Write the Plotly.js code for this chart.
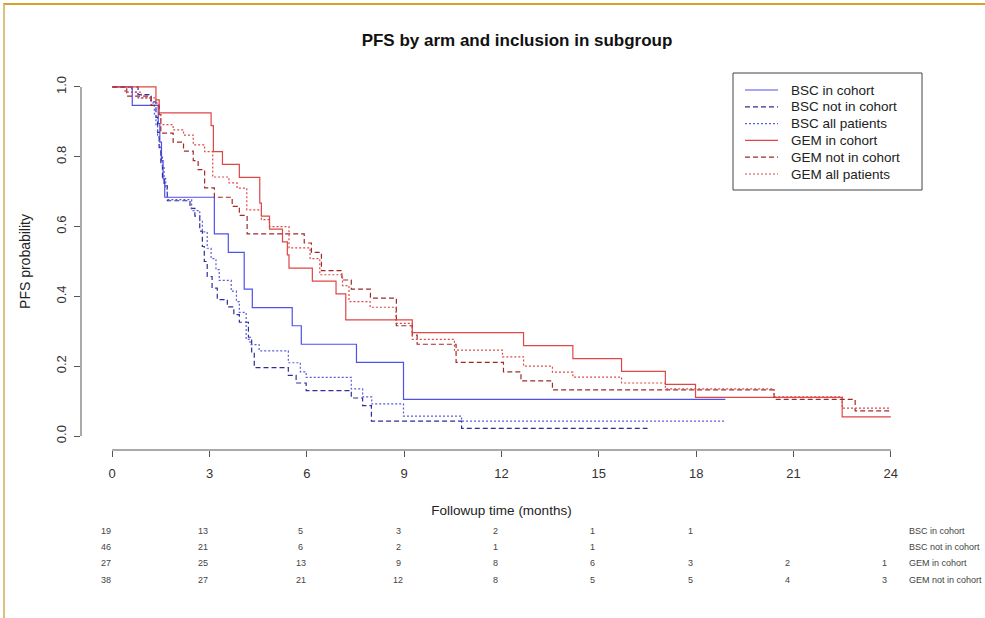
<!DOCTYPE html>
<html>
<head>
<meta charset="utf-8">
<script src="https://cdn.plot.ly/plotly-3.0.1.min.js"></script>
<style>
  html, body { margin: 0; padding: 0; background: #fff; }
  #wrap { position: relative; width: 985px; height: 618px; overflow: hidden; }
  #chart { position: absolute; left: 0; top: 0; width: 985px; height: 618px; }
  #frame { position: absolute; left: 3px; top: 3px; width: 990px; height: 630px;
           border-top: 2px solid #d9a12a; border-left: 2px solid #dcc17e; pointer-events: none; }
</style>
</head>
<body>
<div id="wrap"><div id="chart"></div><div id="frame"></div></div>
<script>
// ---- Kaplan-Meier step data (start time of each step, survival value) ----
const bscInT  = [0,0.62,1.42,1.47,1.52,1.57,1.62,3.15,3.58,4.07,4.32,5.55,5.83,7.53,8.98,18.9];
const bscInS  = [1,0.947,0.895,0.842,0.789,0.737,0.684,0.579,0.526,0.421,0.368,0.316,0.263,0.211,0.105,0.105];

const bscNotT = [0,0.8,1.2,1.35,1.4,1.45,1.5,1.55,1.6,1.7,2.4,2.55,2.7,2.78,2.84,2.93,3.08,3.24,3.55,3.75,3.92,4.2,4.3,4.38,5.43,5.67,5.98,7.37,7.72,7.99,10.77,16.5];
const bscNotS = [1,0.978,0.957,0.913,0.870,0.826,0.783,0.739,0.717,0.674,0.652,0.630,0.587,0.543,0.500,0.457,0.424,0.391,0.370,0.348,0.326,0.283,0.239,0.196,0.174,0.152,0.130,0.109,0.087,0.043,0.022,0.022];

const bscAllT = [0,0.6,0.8,1.2,1.3,1.35,1.4,1.45,1.5,1.55,1.6,1.65,1.7,2.45,2.7,2.78,2.93,3.05,3.2,3.3,3.67,3.83,3.92,4.13,4.25,4.53,5.43,5.8,5.98,7.37,7.72,8.0,8.98,10.77,18.9];
const bscAllS = [1,0.985,0.969,0.954,0.923,0.892,0.862,0.831,0.8,0.769,0.738,0.708,0.677,0.646,0.615,0.585,0.538,0.508,0.477,0.446,0.415,0.385,0.354,0.277,0.262,0.244,0.210,0.184,0.168,0.135,0.112,0.092,0.057,0.043,0.043];

const gemInT  = [0,1.35,1.45,3.05,3.12,3.4,3.92,4.55,4.6,4.85,5.25,5.4,5.45,6.17,6.9,7.2,9.25,12.68,14.2,15.7,17.05,17.98,22.5,24];
const gemInS  = [1,0.963,0.926,0.889,0.815,0.778,0.741,0.667,0.630,0.593,0.556,0.519,0.481,0.444,0.407,0.333,0.296,0.259,0.222,0.185,0.148,0.111,0.055,0.055];

const gemNotT = [0,0.45,1.2,1.45,1.5,1.88,2.2,2.5,2.65,2.85,3.15,3.7,3.92,4.16,5.92,6.14,6.45,7.08,7.37,7.96,8.76,9.25,9.4,10.6,12.06,12.6,13.57,20.4,22.9,24];
const gemNotS = [1,0.974,0.947,0.921,0.868,0.842,0.816,0.789,0.763,0.711,0.684,0.658,0.632,0.579,0.553,0.526,0.474,0.447,0.421,0.395,0.316,0.289,0.263,0.211,0.184,0.158,0.132,0.105,0.072,0.072];

const gemAllT = [0,0.4,0.9,1.35,1.45,1.5,1.88,2.2,2.5,2.85,3.1,3.6,3.85,4.15,4.6,4.85,5.45,6.1,6.4,7.1,7.3,7.95,8.75,9.25,10.55,12.03,12.68,13.57,14.2,15.7,17.05,20.4,22.5,24];
const gemAllS = [1,0.985,0.969,0.954,0.923,0.892,0.877,0.862,0.834,0.815,0.742,0.725,0.71,0.648,0.62,0.6,0.539,0.508,0.462,0.431,0.385,0.369,0.323,0.277,0.246,0.227,0.2,0.183,0.169,0.152,0.135,0.112,0.08,0.08];

const seriesNames = ["BSC in cohort","BSC not in cohort","BSC all patients","GEM in cohort","GEM not in cohort","GEM all patients"];

// ---- number at risk table ----
const riskTimes  = [0,3,6,9,12,15,18,21,24];
const riskLabels = ["BSC in cohort","BSC not in cohort","GEM in cohort","GEM not in cohort"];
const riskBscIn  = [19,13,5,3,2,1,1,null,null];
const riskBscNot = [46,21,6,2,1,1,null,null,null];
const riskGemIn  = [27,25,13,9,8,6,3,2,1];
const riskGemNot = [38,27,21,12,8,5,5,4,3];

const xTicks = [0,3,6,9,12,15,18,21,24];
const yTicks = [0,0.2,0.4,0.6,0.8,1.0];
const yTickText = ["0.0","0.2","0.4","0.6","0.8","1.0"];

// ---- styling ----
const styles = [
  {color:"#5050ee", dash:"solid"},
  {color:"#2e2e96", dash:"5px,3px"},
  {color:"#5a5ae0", dash:"2px,2px"},
  {color:"#e04646", dash:"solid"},
  {color:"#a02a2a", dash:"5px,3px"},
  {color:"#dd4a4a", dash:"2px,2px"}
];
const xs = [bscInT,bscNotT,bscAllT,gemInT,gemNotT,gemAllT];
const ys = [bscInS,bscNotS,bscAllS,gemInS,gemNotS,gemAllS];

const traces = seriesNames.map((n,i)=>({
  type:"scatter", mode:"lines", name:n, x:xs[i], y:ys[i],
  line:{shape:"hv", color:styles[i].color, dash:styles[i].dash, width:1.2},
  hoverinfo:"skip", showlegend:false
}));

// plot area in pixels
const W=985, H=618, L=81, R=63, T=73, B=168;
const plotW = W - L - R, plotH = H - T - B;
function px2paper(px){ return (px - L)/plotW; }
function py2paper(py){ return (H - B - py)/plotH; }

const FONT = "Liberation Sans, Arial, sans-serif";
const annotations = [];
const shapes = [
  {type:"line", xref:"x", yref:"paper", x0:0, x1:24, y0:0, y1:0, line:{color:"#555", width:1}},
  {type:"line", xref:"paper", yref:"y", x0:0, x1:0, y0:0, y1:1, line:{color:"#555", width:1}}
];

// number-at-risk rows
const rows = [riskBscIn, riskBscNot, riskGemIn, riskGemNot];
const rowPy = [531, 547, 563, 580];
rows.forEach((row,r)=>{
  row.forEach((v,j)=>{
    if(v===null) return;
    annotations.push({xref:"x", yref:"paper", x:riskTimes[j], y:py2paper(rowPy[r]), xshift:-6,
      text:String(v), showarrow:false, font:{family:FONT, size:9, color:"#444"},
      xanchor:"center", yanchor:"middle"});
  });
  annotations.push({xref:"paper", yref:"paper", x:px2paper(907), y:py2paper(rowPy[r]),
    text:riskLabels[r], showarrow:false, font:{family:FONT, size:9, color:"#444"},
    xanchor:"left", yanchor:"middle"});
});

// legend box (R-style, compact spacing)
shapes.push({type:"rect", xref:"paper", yref:"paper", x0:px2paper(733), x1:px2paper(922),
  y0:py2paper(190), y1:py2paper(73), line:{color:"#444", width:1}, fillcolor:"rgba(255,255,255,0)"});
const legPy = [90, 106.8, 123.6, 140.4, 157.2, 174];
seriesNames.forEach((n,i)=>{
  shapes.push({type:"line", xref:"paper", yref:"paper", x0:px2paper(745), x1:px2paper(778),
    y0:py2paper(legPy[i]), y1:py2paper(legPy[i]), line:{color:styles[i].color, width:1.2, dash:styles[i].dash}});
  annotations.push({xref:"paper", yref:"paper", x:px2paper(789), y:py2paper(legPy[i]), text:n,
    showarrow:false, xanchor:"left", yanchor:"middle", font:{family:FONT, size:13.5, color:"#222"}});
});

const layout = {
  width:W, height:H,
  margin:{l:L, r:R, t:T, b:B, pad:0},
  paper_bgcolor:"#fff", plot_bgcolor:"#fff",
  font:{family:FONT, color:"#333"},
  title:{text:"<b>PFS by arm and inclusion in subgroup</b>", x:px2paper(517), xref:"paper", xanchor:"center",
         y:1-40/618, yref:"container", yanchor:"middle", font:{size:17, color:"#111"}},
  showlegend:false,
  xaxis:{range:[-0.96,24.96], tickvals:xTicks, ticktext:xTicks.map(String), ticks:"outside", ticklen:6,
         tickcolor:"#555", showline:false, showgrid:false, zeroline:false, fixedrange:true,
         ticklabelstandoff:5, tickfont:{size:13, color:"#333"},
         title:{text:"Followup time (months)", font:{size:13.5, color:"#222"}, standoff:25}},
  yaxis:{range:[-0.04,1.04], tickvals:yTicks, ticktext:yTickText, ticks:"outside", ticklen:6,
         tickcolor:"#555", showline:false, showgrid:false, zeroline:false, fixedrange:true,
         ticklabelstandoff:3, tickangle:-90, tickfont:{size:13, color:"#333"},
         title:{text:"PFS probability", font:{size:14, color:"#222"}, standoff:19}},
  shapes:shapes,
  annotations:annotations
};

Plotly.newPlot("chart", traces, layout, {displayModeBar:false, staticPlot:true});
</script>
</body>
</html>
